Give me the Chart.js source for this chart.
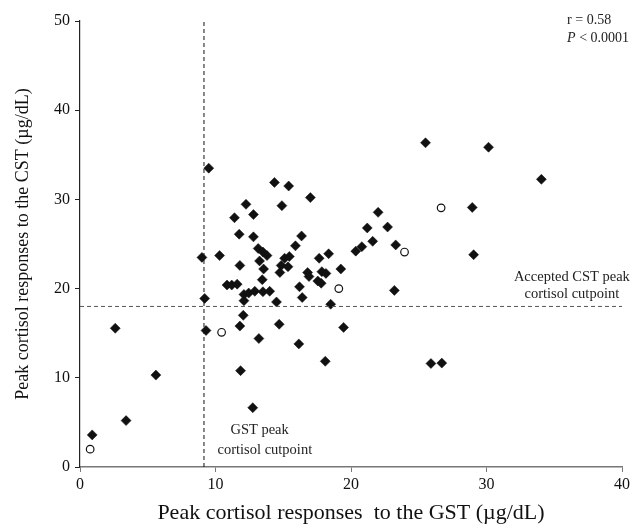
<!DOCTYPE html>
<html lang="en">
  <head>
    <meta charset="UTF-8" />
    <title>Peak cortisol GST vs CST</title>
    <script src="https://cdn.jsdelivr.net/npm/chart.js"></script>
    <style>
      body {
        margin: 0;
        padding: 0;
        background: #fff;
      }
    </style>
  </head>
  <body>
    <canvas id="chart" width="644" height="531"></canvas>

    <script>
      // filled diamonds
      const gstFilled = [
        0.9, 2.6, 3.4, 5.6, 9.2, 9.3, 9.5, 9.0, 10.3, 11.8, 10.85, 11.2, 11.6,
        11.4, 12.25, 12.8, 11.75, 12.8, 13.15, 13.5, 13.8, 13.25, 13.55, 13.45,
        14.35, 12.1, 12.45, 12.9, 13.5, 14.0, 12.1, 14.5, 12.05, 11.8, 13.2,
        11.85, 12.75, 14.7, 14.85, 15.4, 17.0, 14.9, 22.0, 21.2, 22.7, 21.6,
        23.3, 20.8, 20.35, 16.35, 15.9, 18.35, 17.65, 19.25, 17.85, 18.15, 16.8,
        16.9, 17.55, 17.8, 16.2, 23.2, 16.4, 15.1, 15.45, 15.35, 14.75, 18.5,
        19.45, 16.15, 18.1, 25.5, 30.15, 34.05, 28.95, 29.05, 26.7, 25.9,
      ];
      const cstFilled = [
        3.6, 15.55, 5.2, 10.3, 18.9, 15.3, 33.5, 23.5, 23.7, 22.6, 20.4, 20.4,
        20.5, 27.95, 29.45, 28.3, 26.1, 25.8, 24.5, 24.1, 23.7, 23.1, 22.2, 21.0,
        31.9, 19.35, 19.5, 19.7, 19.65, 19.7, 18.65, 18.5, 17.0, 15.8, 14.4,
        10.8, 6.65, 16.0, 22.6, 31.5, 30.2, 29.3, 28.55, 26.8, 26.9, 25.3, 24.9,
        24.7, 24.2, 25.9, 24.8, 23.9, 23.4, 22.2, 21.9, 21.7, 21.8, 21.35,
        20.85, 20.6, 20.2, 19.8, 19.0, 23.4, 23.6, 22.45, 21.8, 18.25, 15.65,
        13.8, 11.85, 36.35, 35.85, 32.25, 29.1, 23.8, 11.65, 11.6,
      ];

      // open circles
      const gstOpen = [0.75, 10.45, 19.1, 23.95, 26.65];
      const cstOpen = [2.0, 15.1, 20.0, 24.1, 29.05];

      // cutpoints
      const gstCutpoint = 9.15;
      const cstCutpoint = 18;

      const xTitle = "Peak cortisol responses  to the GST (\u00b5g/dL)";
      const yTitle = "Peak cortisol responses to the CST (\u00b5g/dL)";

      const notes = [
        { x: 36.3, y: 21.3, text: "Accepted CST peak", align: "center" },
        { x: 36.3, y: 19.35, text: "cortisol cutpoint", align: "center" },
        { x: 11.1, y: 4.15, text: "GST peak", align: "left" },
        { x: 10.15, y: 1.9, text: "cortisol cutpoint", align: "left" },
      ];

      const serif = "'Liberation Serif', 'Times New Roman', serif";

      function zip(xs, ys) {
        return xs.map((x, i) => ({ x: x, y: ys[i] }));
      }

      // text annotations and the r / P note
      const notesPlugin = {
        id: "notes",
        afterDraw(chart) {
          const ctx = chart.ctx;
          const xs = chart.scales.x;
          const ys = chart.scales.y;
          ctx.save();
          ctx.fillStyle = "#222";
          ctx.textBaseline = "middle";
          ctx.font = "14.5px " + serif;
          notes.forEach((n) => {
            ctx.textAlign = n.align;
            ctx.fillText(n.text, xs.getPixelForValue(n.x), ys.getPixelForValue(n.y));
          });

          const left = xs.getPixelForValue(35.95);
          ctx.textAlign = "left";
          ctx.font = "14px " + serif;
          ctx.fillText("r = 0.58", left, ys.getPixelForValue(50.1));
          const py = ys.getPixelForValue(48.1);
          ctx.font = "italic 14px " + serif;
          ctx.fillText("P", left, py);
          const w = ctx.measureText("P").width;
          ctx.font = "14px " + serif;
          ctx.fillText(" < 0.0001", left + w, py);
          ctx.restore();
        },
      };

      const chart = new Chart(document.getElementById("chart"), {
        type: "scatter",
        data: {
          datasets: [
            {
              label: "cutpoint GST",
              type: "line",
              data: [
                { x: gstCutpoint, y: 0 },
                { x: gstCutpoint, y: 50 },
              ],
              borderColor: "#111",
              borderWidth: 1,
              borderDash: [4, 3],
              pointRadius: 0,
              showLine: true,
              fill: false,
            },
            {
              label: "cutpoint CST",
              type: "line",
              data: [
                { x: 0, y: cstCutpoint },
                { x: 40, y: cstCutpoint },
              ],
              borderColor: "#555",
              borderWidth: 1,
              borderDash: [4, 3],
              pointRadius: 0,
              showLine: true,
              fill: false,
            },
            {
              label: "filled",
              data: zip(gstFilled, cstFilled),
              pointStyle: "rectRot",
              pointRadius: 5,
              backgroundColor: "#111",
              borderColor: "#111",
              borderWidth: 0.5,
            },
            {
              label: "open",
              data: zip(gstOpen, cstOpen),
              pointStyle: "circle",
              pointRadius: 3.8,
              backgroundColor: "#fff",
              borderColor: "#111",
              borderWidth: 1.2,
            },
          ],
        },
        options: {
          responsive: false,
          animation: false,
          layout: {
            padding: { top: 21, right: 22, left: 0, bottom: 0 },
          },
          plugins: {
            legend: { display: false },
            tooltip: { enabled: false },
          },
          scales: {
            x: {
              type: "linear",
              min: 0,
              max: 40,
              afterFit: (s) => {
                s.height = 64;
              },
              ticks: {
                stepSize: 10,
                color: "#111",
                padding: 3,
                font: { family: serif, size: 16 },
              },
              grid: {
                drawOnChartArea: false,
                drawTicks: true,
                tickLength: 5,
                color: "#777",
              },
              border: { display: true, color: "#777", width: 1.5 },
              title: {
                display: true,
                text: xTitle,
                color: "#111",
                font: { family: serif, size: 22 },
                padding: { top: 0, bottom: 5 },
              },
            },
            y: {
              type: "linear",
              min: 0,
              max: 50,
              afterFit: (s) => {
                s.width = 80;
              },
              ticks: {
                stepSize: 10,
                color: "#111",
                padding: 5,
                font: { family: serif, size: 16 },
              },
              grid: {
                drawOnChartArea: false,
                drawTicks: true,
                tickLength: 5,
                color: "#222",
              },
              border: { display: true, color: "#222", width: 1.2 },
              title: {
                display: true,
                text: yTitle,
                color: "#111",
                font: { family: serif, size: 18 },
                padding: { top: 12, bottom: 0 },
              },
            },
          },
        },
        plugins: [notesPlugin],
      });
    </script>
  </body>
</html>
